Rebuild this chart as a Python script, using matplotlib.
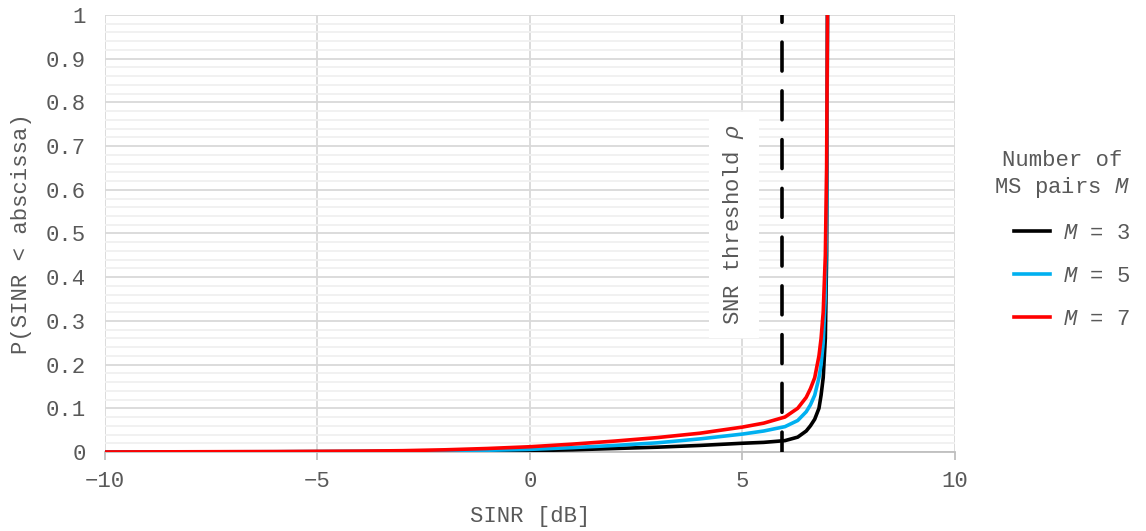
import matplotlib
matplotlib.use("Agg")
import matplotlib.pyplot as plt
from matplotlib.ticker import MultipleLocator

plt.rcParams['font.family'] = ['Liberation Mono', 'DejaVu Sans']
plt.rcParams['mathtext.fontset'] = 'custom'
plt.rcParams['mathtext.it'] = 'Liberation Mono:italic'
plt.rcParams['mathtext.rm'] = 'Liberation Mono'

# Data
sinr = [-10, -8, -6, -5, -4, -3, -2, -1, 0, 1, 2, 3, 4, 5, 5.5, 6, 6.3, 6.5, 6.6, 6.7, 6.8, 6.85, 6.9, 6.95, 6.98, 7.0]
p_m3 = [0.0, 0.0002, 0.0004, 0.0006, 0.0008, 0.0012, 0.0016, 0.0022, 0.003, 0.005, 0.008, 0.011, 0.015, 0.02, 0.022, 0.026, 0.034, 0.048, 0.060, 0.075, 0.10, 0.13, 0.17, 0.26, 0.45, 1.0]
p_m5 = [0.0, 0.0003, 0.0006, 0.0009, 0.0013, 0.0018, 0.0026, 0.004, 0.006, 0.010, 0.015, 0.021, 0.030, 0.041, 0.048, 0.058, 0.072, 0.092, 0.108, 0.13, 0.17, 0.20, 0.25, 0.36, 0.55, 1.0]
p_m7 = [0.0, 0.0005, 0.001, 0.0015, 0.002, 0.003, 0.005, 0.008, 0.012, 0.018, 0.025, 0.033, 0.043, 0.057, 0.066, 0.080, 0.100, 0.125, 0.145, 0.17, 0.22, 0.26, 0.32, 0.45, 0.65, 1.0]
labels = ['$M$ = 3', '$M$ = 5', '$M$ = 7']
colors = ['#000000', '#00b0f0', '#ff0000']
threshold = 5.93

TXT = '#595959'

fig = plt.figure(figsize=(11.46, 5.31), dpi=100)
ax = fig.add_axes([0.0916, 0.1488, 0.7417, 0.823])

ax.set_xlim(-10, 10)
ax.set_ylim(0, 1)
ax.yaxis.set_minor_locator(MultipleLocator(0.02))

ax.grid(which='major', axis='both', color='#d9d9d9', linewidth=1.3, zorder=0)
ax.grid(which='minor', axis='y', color='#f0f0f0', linewidth=1.3, zorder=0)
ax.set_axisbelow(True)

for s in ['top', 'right', 'left']:
    ax.spines[s].set_visible(False)
ax.spines['bottom'].set_color('#bfbfbf')
ax.spines['bottom'].set_linewidth(1.3)
ax.tick_params(axis='x', which='major', length=6, color='#bfbfbf', width=1.3,
               labelsize=16, pad=8, labelcolor=TXT)
ax.tick_params(axis='y', which='both', length=0, labelsize=16, pad=14, labelcolor=TXT)
ax.tick_params(axis='x', which='minor', length=0)

xt = [-10, -5, 0, 5, 10]
ax.set_xticks(xt)
ax.set_xticklabels([('\u2212' + str(-v)) if v < 0 else str(v) for v in xt])
yt = [i / 10 for i in range(11)]
ax.set_yticks(yt)
ax.set_yticklabels(['0' if v == 0 else ('1' if v == 1 else f'{v:.1f}') for v in yt])

for y, lab, c in zip([p_m3, p_m5, p_m7], labels, colors):
    ax.plot(sinr, y, color=c, linewidth=2.6, label=lab, zorder=3, solid_joinstyle='round')

ax.plot([threshold, threshold], [0, 1], color='black', linewidth=2.6,
        linestyle=(2.5, (8, 5.5)), zorder=4, dash_capstyle='round')

ax.text(4.8, 0.52, 'SNR threshold $\\rho$', rotation=90, ha='center', va='center',
        fontsize=16, color=TXT, zorder=5,
        bbox=dict(facecolor='white', edgecolor='none', pad=9))

ax.set_xlabel('SINR [dB]', fontsize=16, color=TXT, labelpad=10)
ax.set_ylabel('P(SINR < abscissa)', fontsize=16, color=TXT, labelpad=10)

leg = ax.legend(loc='center', bbox_to_anchor=(0.927, 0.548), bbox_transform=fig.transFigure,
                frameon=False, title='Number of\nMS pairs $M$', fontsize=16, title_fontsize=16,
                handlelength=1.6, handletextpad=0.6, labelspacing=1.0, labelcolor=TXT)
leg.get_title().set_color(TXT)
leg.get_title().set_ha('center')
leg.get_title().set_linespacing(1.25)
leg._legend_box.align = 'right'

fig.savefig('out.png', dpi=100)
